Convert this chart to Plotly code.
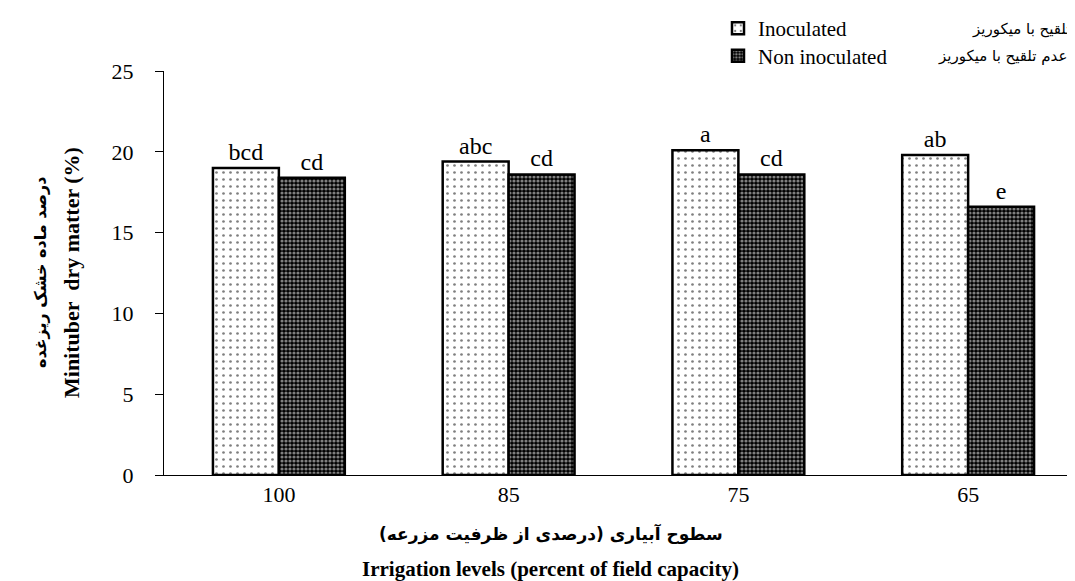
import plotly.graph_objects as go

categories = ["100", "85", "75", "65"]
inoculated = [19.0, 19.4, 20.1, 19.8]
non_inoculated = [18.4, 18.6, 18.6, 16.6]
letters_inoc = ["bcd", "abc", "a", "ab"]
letters_non = ["cd", "cd", "cd", "e"]
y_ticks = [0, 5, 10, 15, 20, 25]

SERIF = "Liberation Serif"
ARABIC = "DejaVu Sans"

W, H = 1075, 581
ML, MR, MT, MB = 156, 0, 59, 114
PW, PH = W - ML - MR, H - MT - MB

def px_x(p):
    return (p - ML) / PW

def px_y(p):
    return (H - MB - p) / PH

fig = go.Figure()
fig.add_trace(go.Bar(
    x=categories, y=inoculated, name="Inoculated",
    text=letters_inoc, textposition="outside",
    textfont=dict(family=SERIF, size=24, color="black"),
    marker=dict(color="white", line=dict(color="black", width=2.5),
                pattern=dict(shape=".", fgcolor="black", bgcolor="white", size=7, solidity=0.12)),
    cliponaxis=False, legend="legend",
))
fig.add_trace(go.Bar(
    x=categories, y=non_inoculated, name="Non inoculated",
    text=letters_non, textposition="outside",
    textfont=dict(family=SERIF, size=24, color="black"),
    marker=dict(color="black", line=dict(color="black", width=2.5),
                pattern=dict(shape=".", fgcolor="white", bgcolor="black", size=4, solidity=0.5)),
    cliponaxis=False, legend="legend2",
))

annotations = [
    dict(text="<b>درصد ماده خشک ریزغده</b>", x=px_x(32), y=0.5, xref="paper", yref="paper",
         textangle=-90, showarrow=False, font=dict(family=ARABIC, size=16, color="black"),
         xanchor="center", yanchor="middle"),
    dict(text="<b>Minituber  dry matter (%)</b>", x=px_x(63), y=0.5, xref="paper", yref="paper",
         textangle=-90, showarrow=False, font=dict(family=SERIF, size=22, color="black"),
         xanchor="center", yanchor="middle"),
    dict(text="<b>سطوح آبیاری (درصدی از ظرفیت مزرعه)</b>", x=px_x(543), y=px_y(527),
         xref="paper", yref="paper", showarrow=False,
         font=dict(family=ARABIC, size=17, color="black"), xanchor="center", yanchor="middle"),
    dict(text="<b>Irrigation levels (percent of field capacity)</b>", x=px_x(542), y=px_y(562),
         xref="paper", yref="paper", showarrow=False,
         font=dict(family=SERIF, size=21, color="black"), xanchor="center", yanchor="middle"),
    dict(text="تلقیح با میکوریز", x=px_x(962), y=px_y(17), xref="paper", yref="paper",
         showarrow=False, font=dict(family=ARABIC, size=15, color="black"),
         xanchor="left", yanchor="middle", align="left"),
    dict(text="عدم تلقیح با میکوریز", x=px_x(928), y=px_y(44), xref="paper", yref="paper",
         showarrow=False, font=dict(family=ARABIC, size=15, color="black"),
         xanchor="left", yanchor="middle", align="left"),
]

legend_common = dict(font=dict(family=SERIF, size=21, color="black"),
                     bgcolor="rgba(0,0,0,0)", itemwidth=30,
                     xanchor="left", yanchor="middle", xref="paper", yref="paper")

fig.update_layout(
    width=W, height=H,
    margin=dict(l=ML, r=MR, t=MT, b=MB),
    paper_bgcolor="white", plot_bgcolor="white",
    font=dict(family=SERIF, color="black"),
    barmode="group", bargap=0.426, bargroupgap=0,
    showlegend=True,
    legend=dict(x=px_x(710), y=px_y(16), **legend_common),
    legend2=dict(x=px_x(710), y=px_y(44), **legend_common),
    xaxis=dict(showline=True, linecolor="black", linewidth=1, ticks="",
               tickfont=dict(family=SERIF, size=22, color="black"),
               ticklabelstandoff=0, showgrid=False, zeroline=False),
    yaxis=dict(range=[0, 25], tickvals=y_ticks, showline=True, linecolor="black", linewidth=1,
               ticks="outside", ticklen=8, tickcolor="black",
               tickfont=dict(family=SERIF, size=22, color="black"),
               ticklabelstandoff=17, showgrid=False, zeroline=False),
    annotations=annotations,
)

fig.write_html("out.html")
